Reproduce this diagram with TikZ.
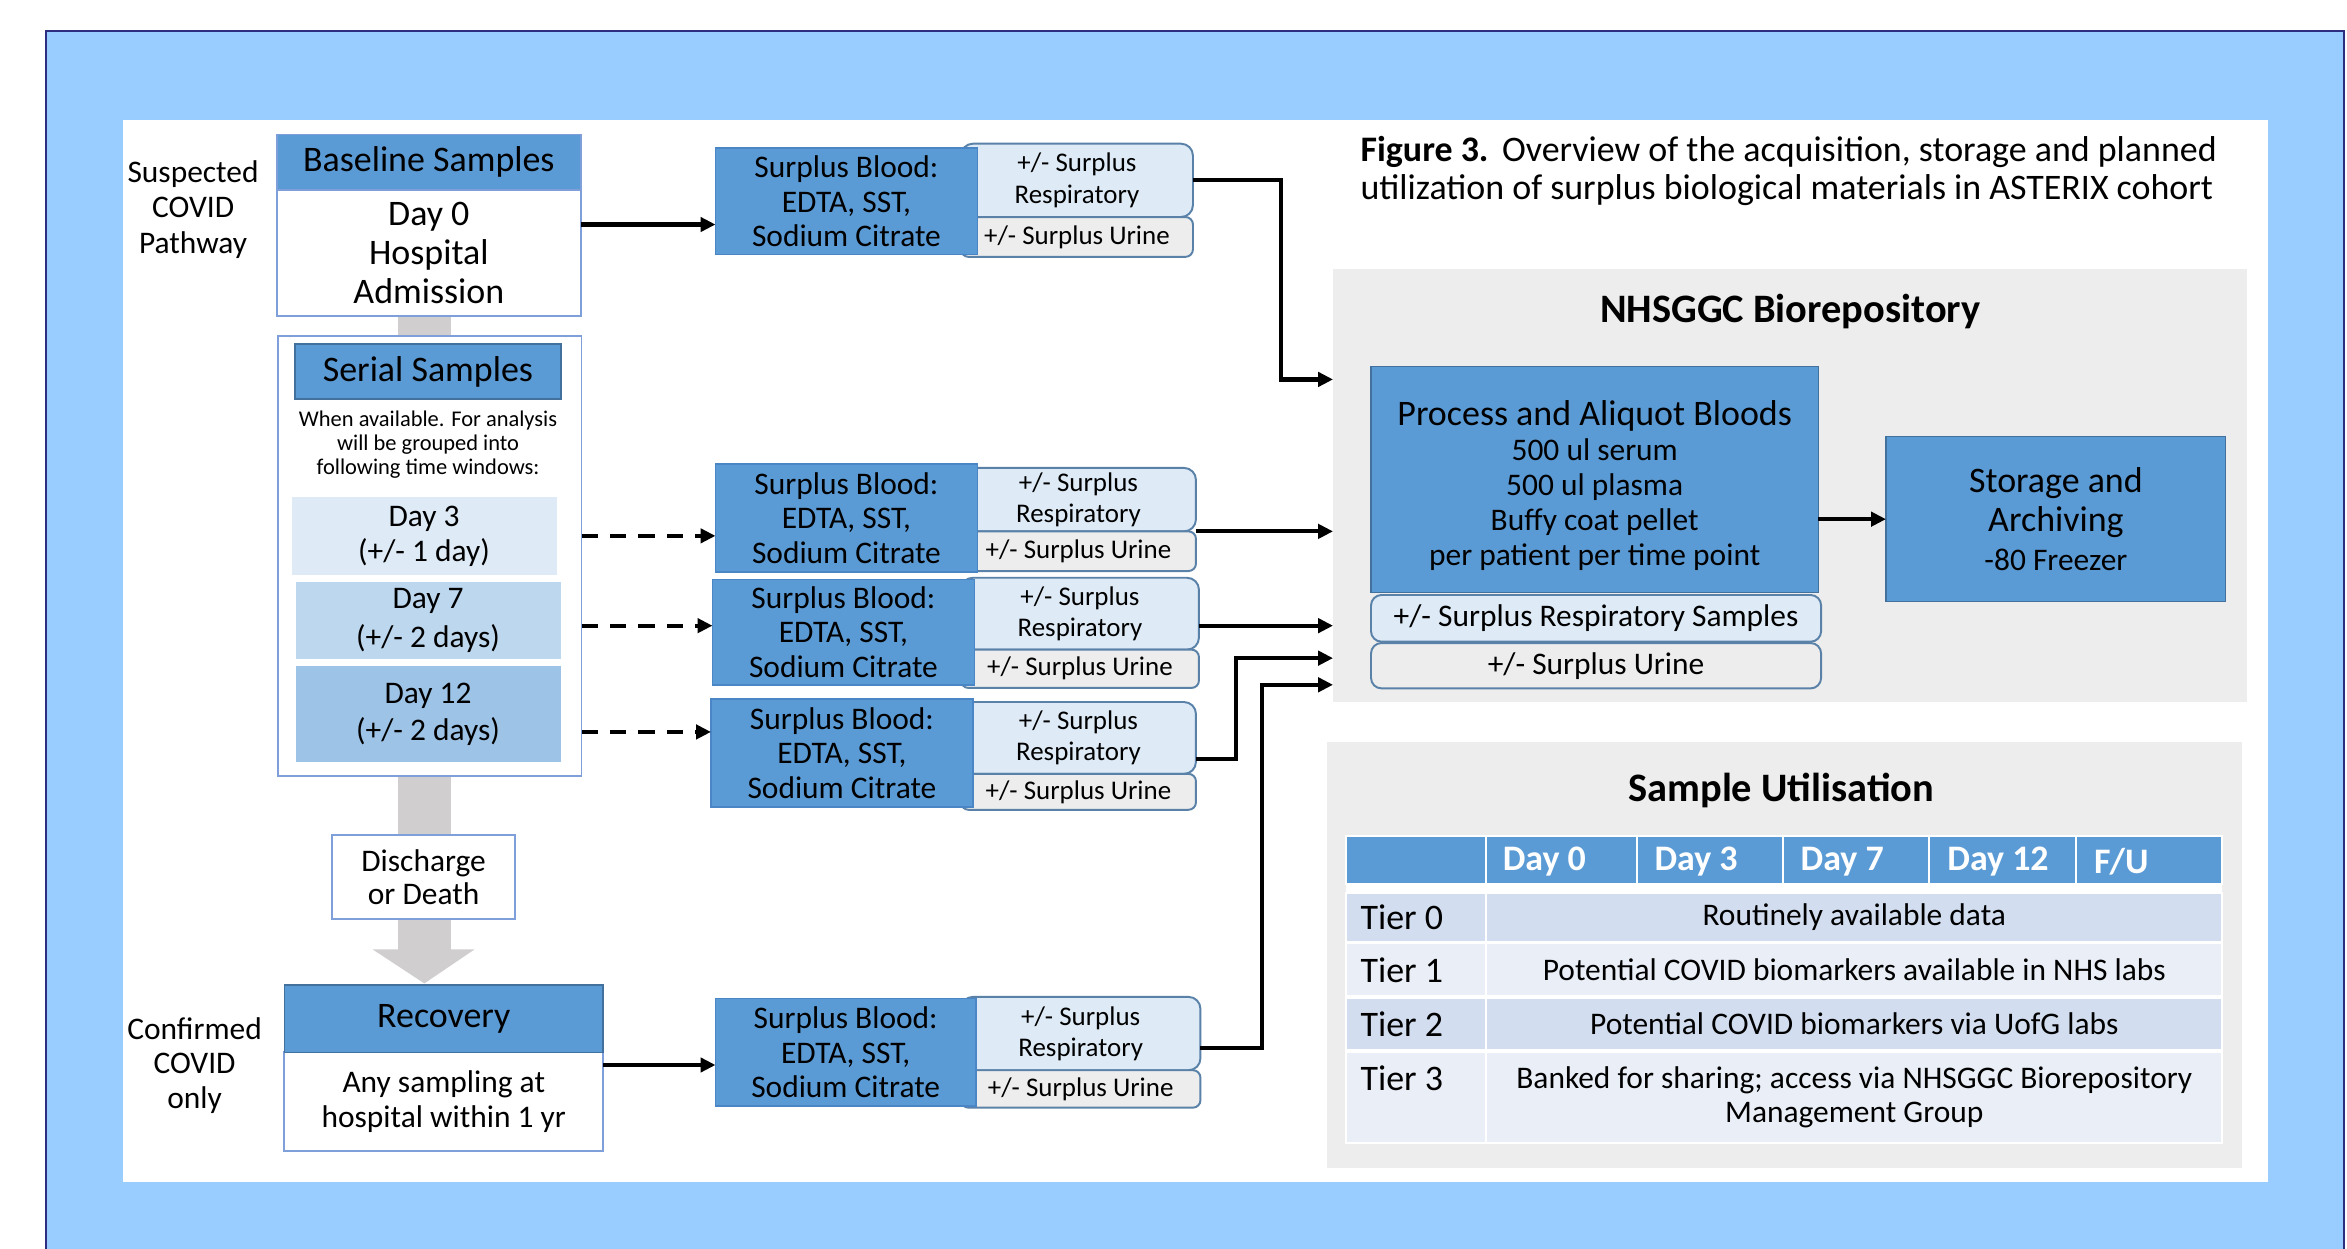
\documentclass[tikz,border=0pt]{standalone}
\usepackage{fontspec}
\setmainfont{Carlito}
\usetikzlibrary{arrows.meta}
\definecolor{frameblue}{HTML}{99CCFF}
\definecolor{framenavy}{HTML}{2E2E80}
\definecolor{boxblue}{HTML}{5B9BD5}
\definecolor{hdredge}{HTML}{41719C}
\definecolor{lightedge}{HTML}{7F9FDB}
\definecolor{bloodedge}{HTML}{4A86C6}
\definecolor{roundedge}{HTML}{5A82A8}
\definecolor{respfill}{HTML}{DEEBF7}
\definecolor{urinefill}{HTML}{EDEDED}
\definecolor{greybar}{HTML}{D0CECE}
\definecolor{panelgrey}{HTML}{EDEDED}
\definecolor{rowA}{HTML}{D2DEEF}
\definecolor{rowB}{HTML}{EAEFF7}
\definecolor{dthree}{HTML}{DEEBF7}
\definecolor{dseven}{HTML}{BDD7EE}
\definecolor{dtwelve}{HTML}{9DC3E6}
\newcommand\fsz[2]{\fontsize{#1}{#2}\selectfont}
\begin{document}
\begin{tikzpicture}[x=1pt,y=-1pt,
  base/.style={inner sep=0pt,outer sep=0pt,align=center,text=black},
  sized/.style 2 args={minimum width=#1,minimum height=#2},
  hdrbox/.style={base,fill=boxblue,draw=hdredge,line width=1},
  whitebox/.style={base,fill=white,draw=lightedge,line width=1.3},
  bloodbox/.style={base,fill=boxblue,draw=bloodedge,line width=1,font=\fsz{21}{23}},
  respbox/.style={base,fill=respfill,draw=roundedge,line width=1.3,rounded corners=8,font=\fsz{18}{21}},
  urinebox/.style={base,fill=urinefill,draw=roundedge,line width=1.3,rounded corners=5,font=\fsz{18}{21}},
  arr/.style={line width=2.8,-{Triangle[length=10pt,width=9.5pt]}},
  darr/.style={arr,dash pattern=on 11pt off 8pt},
  hcell/.style={base,fill=boxblue,draw=white,line width=1.2,minimum height=32.3},
  htext/.style={base,anchor=west,text=white,font=\bfseries\fsz{24}{26}},
  rowcell/.style={base,draw=white,line width=1.2},
  tierlab/.style={base,anchor=west,font=\fsz{24}{26}},
  tiertxt/.style={rowcell,font=\fsz{21}{23}}
]
\useasboundingbox (0,0) rectangle (1568,834.44);
% frame
\fill[frameblue] (31,21) rectangle (1566,860);
\draw[framenavy,line width=1.3] (31,860) -- (31,21) -- (1566,21) -- (1566,860);
\fill[white] (82,80) rectangle (1515,789.5);

% grey flow bar
\fill[greybar] (266,205) rectangle (301,636);
\fill[greybar] (249,634.3) -- (317,634.3) -- (283.5,657) -- cycle;

% left labels
\node[base,font=\fsz{21}{23.7}] (susp) at (129,140) {Suspected\\COVID\\Pathway};
\node[base,font=\fsz{21}{23}] (conf) at (130,711.8) {Confirmed\\COVID\\only};

% baseline
\node[whitebox,sized={203}{84},font=\fsz{24}{26.2}] (bbody) at (286.5,169) {Day 0\\Hospital\\Admission};
\node[hdrbox,draw=lightedge,sized={203}{37},font=\fsz{24}{26}] (bhead) at (286.5,108.5) {Baseline Samples};

% serial
\node[whitebox,sized={203}{294}] (serial) at (287,371.4) {};
\node[hdrbox,sized={177.8}{36.8},font=\fsz{24}{26}] (shead) at (285.9,248.2) {Serial Samples};
\node[base,font=\fsz{15}{16.3}] (snote) at (286,297) {When available. For analysis\\will be grouped into\\following time windows:};
\node[base,fill=dthree,sized={177}{52},font=\fsz{21}{24}] (d3) at (283.3,358.3) {Day 3\\(+/- 1 day)};
\node[base,fill=dseven,sized={177}{51.7},font=\fsz{21}{26}] (d7) at (286,414.5) {Day 7\\(+/- 2 days)};
\node[base,fill=dtwelve,sized={177}{64},font=\fsz{21}{24.6}] (d12) at (286,477.2) {Day 12\\(+/- 2 days)};

% discharge
\node[whitebox,sized={122}{56},font=\fsz{21}{22.3}] (disch) at (283,586) {Discharge\\or Death};

% recovery
\node[whitebox,sized={213}{66},font=\fsz{21}{23}] (rbody) at (296.5,736) {Any sampling at\\hospital within 1 yr};
\node[hdrbox,sized={213}{45},font=\fsz{24}{26}] (rhead) at (296.5,680.5) {Recovery};

% surplus groups
\node[respbox,sized={155}{49}] (g0r) at (719.5,120.5) {+/- Surplus\\Respiratory};
\node[urinebox,sized={155}{26.6}] (g0u) at (719.5,158.3) {+/- Surplus Urine};
\node[bloodbox,sized={175}{71}] (g0b) at (565.5,134.5) {Surplus Blood:\\EDTA, SST,\\Sodium Citrate};

\node[respbox,sized={157}{42.4}] (g1r) at (720.5,333.8) {+/- Surplus\\Respiratory};
\node[urinebox,sized={157}{26.5}] (g1u) at (720.5,368.25) {+/- Surplus Urine};
\node[bloodbox,sized={175}{72}] (g1b) at (565.5,346) {Surplus Blood:\\EDTA, SST,\\Sodium Citrate};

\node[respbox,sized={159}{48}] (g2r) at (721.5,410) {+/- Surplus\\Respiratory};
\node[urinebox,sized={159}{25.6}] (g2u) at (721.5,446.8) {+/- Surplus Urine};
\node[bloodbox,sized={175}{70.7}] (g2b) at (563.5,422.35) {Surplus Blood:\\EDTA, SST,\\Sodium Citrate};

\node[respbox,sized={157}{48}] (g3r) at (720.5,493) {+/- Surplus\\Respiratory};
\node[urinebox,sized={157}{24}] (g3u) at (720.5,529) {+/- Surplus Urine};
\node[bloodbox,sized={175}{72}] (g3b) at (562.5,503) {Surplus Blood:\\EDTA, SST,\\Sodium Citrate};

\node[respbox,sized={160}{49}] (g4r) at (722,690.5) {+/- Surplus\\Respiratory};
\node[urinebox,sized={160}{25}] (g4u) at (722,727.5) {+/- Surplus Urine};
\node[bloodbox,sized={174}{72}] (g4b) at (565,703) {Surplus Blood:\\EDTA, SST,\\Sodium Citrate};

% caption
\node[base,anchor=west,font=\fsz{24}{25.6}] (cap1) at (909,101.3) {\textbf{Figure 3.}\hspace{9pt}Overview of the acquisition, storage and planned};
\node[base,anchor=west,font=\fsz{24}{25.6}] (cap2) at (909,127) {utilization of surplus biological materials in ASTERIX cohort};

% biorepository
\node[base,fill=panelgrey,sized={611}{288.8}] (bio) at (1196,324.4) {};
\node[base,font=\bfseries\fsz{27}{30}] (biot) at (1196,208) {NHSGGC Biorepository};
\node[base,fill=boxblue,draw=hdredge,line width=0.8,sized={298.8}{151}] (proc) at (1065.4,320.5) {};
\node[base,font=\fsz{21}{23.3}] (proct) at (1065.4,324.5)
  {{\fsz{24}{25.7}Process and Aliquot Bloods}\\500 ul serum\\500 ul plasma\\Buffy coat pellet\\per patient per time point};
\node[base,fill=respfill,draw=roundedge,line width=1.3,rounded corners=7,sized={300.7}{31.2},font=\fsz{21}{23}] (procr) at (1066.3,413.1) {+/- Surplus Respiratory Samples};
\node[base,fill=urinefill,draw=roundedge,line width=1.3,rounded corners=7,sized={300.7}{30.3},font=\fsz{21}{23}] (procu) at (1066.3,444.75) {+/- Surplus Urine};
\node[base,fill=boxblue,draw=hdredge,line width=0.8,sized={227}{110.3},font=\fsz{24}{25.8}] (stor) at (1373.5,346.85) {Storage and\\Archiving\\{\fsz{21}{23}-80 Freezer}};

\coordinate (a0) at (890.6,253.5);
\coordinate (a1) at (890.6,355);
\coordinate (a2) at (890.6,418);
\coordinate (a3) at (890.6,439.7);
\coordinate (a4) at (890.6,457.5);

% sample utilisation
\node[base,fill=panelgrey,sized={611.3}{284.6}] (util) at (1192.35,638.3) {};
\node[base,font=\bfseries\fsz{27}{30}] (utilt) at (1190,527.8) {Sample Utilisation};
\node[base,fill=white,sized={585.6}{205.4}] (tbl) at (1191.8,661) {};
\node[hcell,minimum width=94] (h0) at (946,574.45) {};
\node[hcell,minimum width=100.7] (h1) at (1043.35,574.45) {};
\node[hcell,minimum width=97.6] (h2) at (1142.5,574.45) {};
\node[hcell,minimum width=97.5] (h3) at (1240.05,574.45) {};
\node[hcell,minimum width=98] (h4) at (1337.8,574.45) {};
\node[hcell,minimum width=97.8] (h5) at (1435.7,574.45) {};
\node[htext] (h1t) at (1004,575.7) {Day 0};
\node[htext] (h2t) at (1105.4,575.7) {Day 3};
\node[htext] (h3t) at (1203,575.7) {Day 7};
\node[htext] (h4t) at (1301,575.7) {Day 12};
\node[htext] (h5t) at (1399,575.7) {F/U};

\node[rowcell,fill=rowA,sized={94}{32.3}] (c0) at (946,612.95) {};
\node[tiertxt,fill=rowA,sized={491.6}{32.3}] (r0) at (1238.8,612.95) {Routinely available data};
\node[rowcell,fill=rowB,sized={94}{35.2}] (c1) at (946,647.8) {};
\node[tiertxt,fill=rowB,sized={491.6}{35.2}] (r1) at (1238.8,647.8) {Potential COVID biomarkers available in NHS labs};
\node[rowcell,fill=rowA,sized={94}{35}] (c2) at (946,684) {};
\node[tiertxt,fill=rowA,sized={491.6}{35}] (r2) at (1238.8,684) {Potential COVID biomarkers via UofG labs};
\node[rowcell,fill=rowB,sized={94}{61.1}] (c3) at (946,733.15) {};
\node[tiertxt,fill=rowB,sized={491.6}{61.1}] (r3) at (1238.8,733.15) {Banked for sharing; access via NHSGGC Biorepository\\Management Group};
\node[tierlab] (t0) at (909,613) {Tier 0};
\node[tierlab] (t1) at (909,648.5) {Tier 1};
\node[tierlab] (t2) at (909,684) {Tier 2};
\node[tierlab] (t3) at (909,720.5) {Tier 3};

% connectors
\draw[arr] ([yshift=19pt]bbody.east) -- ([yshift=-15.5pt]g0b.west);
\draw[arr] ([yshift=24.5pt]rbody.east) -- ([yshift=-8.5pt]g4b.west);
\draw[darr] ([yshift=13.4pt]serial.east) -- ([yshift=-12pt]g1b.west);
\draw[darr] ([yshift=-46.6pt]serial.east) -- ([yshift=4.35pt]g2b.west);
\draw[darr] ([yshift=-117.6pt]serial.east) -- ([yshift=14pt]g3b.west);

\draw[arr] (g0r.east) -- ++(59,0) |- (a0);
\draw[arr] (g1r.south east) -- (a1);
\draw[arr] ([yshift=-8pt]g2r.east) -- (a2);
\draw[arr] ([yshift=-14pt]g3r.east) -- ++(27,0) |- (a3);
\draw[arr] ([yshift=-9.5pt]g4r.east) -- ++(41,0) |- (a4);
\draw[arr] (proc.east |- stor.west) -- (stor.west);
\end{tikzpicture}
\end{document}
